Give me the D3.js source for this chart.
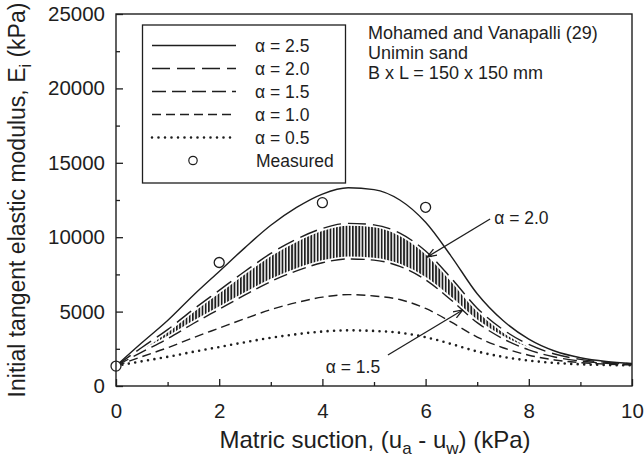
<!DOCTYPE html>
<html>
<head>
<meta charset="utf-8">
<script src="https://cdn.jsdelivr.net/npm/d3@7"></script>
<style>
  body { margin: 0; background: #fff; }
  text { font-family: "Liberation Sans", Arial, Helvetica, sans-serif; fill: #1e1e1e; }
</style>
</head>
<body>
<div id="chart"></div>
<script>
// suction values (kPa)
const suction = [0, 0.5, 1, 1.5, 2, 2.5, 3, 3.5, 4, 4.5, 5, 5.5, 6, 6.5, 7, 7.5, 8, 8.5, 9, 9.5, 10];

// Ei (kPa)
const alpha25 = [1350, 2900, 4400, 6100, 7700, 9300, 10800, 12000, 12900, 13320, 13200, 12500, 11000, 8700, 6200, 4400, 3150, 2350, 1900, 1650, 1520];
const alpha20 = [1350, 2590, 3790, 5150, 6430, 7710, 8910, 9870, 10590, 10930, 10830, 10270, 9070, 7230, 5230, 3790, 2790, 2150, 1790, 1590, 1490];
const alpha15 = [1350, 2280, 3180, 4200, 5160, 6120, 7020, 7740, 8280, 8540, 8460, 8040, 7140, 5760, 4260, 3180, 2430, 1950, 1680, 1530, 1460];
const alpha10 = [1350, 1970, 2570, 3250, 3890, 4530, 5130, 5610, 5970, 6140, 6050, 5810, 5210, 4290, 3290, 2570, 2070, 1750, 1570, 1470, 1420];
const alpha05 = [1350, 1660, 1960, 2300, 2620, 2940, 3240, 3480, 3660, 3740, 3700, 3580, 3280, 2820, 2320, 1960, 1710, 1550, 1460, 1410, 1390];

const measuredX = [0, 2, 4, 6];
const measuredY = [1340, 8300, 12320, 12010];

const xTicks = [0, 2, 4, 6, 8, 10];
const yTicks = [0, 5000, 10000, 15000, 20000, 25000];

const seriesNames = ["\u03b1 = 2.5", "\u03b1 = 2.0", "\u03b1 = 1.5", "\u03b1 = 1.0", "\u03b1 = 0.5"];
const infoLines = ["Mohamed and Vanapalli (29)", "Unimin sand", "B x L = 150 x 150 mm"];

const width = 644, height = 459;
const margin = { top: 14, right: 12, bottom: 73, left: 116 };
const ink = "#1e1e1e";
const font = '"Liberation Sans", Arial, Helvetica, sans-serif';

const svg = d3.select("#chart").append("svg")
  .attr("width", width)
  .attr("height", height);

const x = d3.scaleLinear().domain([0, 10]).range([margin.left, width - margin.right]);
const y = d3.scaleLinear().domain([0, 25000]).range([height - margin.bottom, margin.top]);

// hatch pattern
const defs = svg.append("defs");
defs.append("pattern")
  .attr("id", "hatch")
  .attr("patternUnits", "userSpaceOnUse")
  .attr("width", 3.2).attr("height", 6)
  .append("rect")
  .attr("x", 0).attr("y", 0).attr("width", 1.8).attr("height", 6)
  .attr("fill", ink);

defs.append("marker")
  .attr("id", "arrow")
  .attr("viewBox", "0 0 10 10")
  .attr("refX", 9.5).attr("refY", 5)
  .attr("markerWidth", 10).attr("markerHeight", 10)
  .attr("markerUnits", "userSpaceOnUse")
  .attr("orient", "auto")
  .append("path")
  .attr("d", "M0,1.5 L9.5,5 L0,8.5")
  .attr("fill", "none")
  .attr("stroke", ink)
  .attr("stroke-width", 1.3);

const line = d3.line()
  .x((d, i) => x(suction[i]))
  .y(d => y(d))
  .curve(d3.curveMonotoneX);

// hatched band between alpha 2.0 and alpha 1.5
const band = d3.area()
  .x((d, i) => x(suction[i]))
  .y0((d, i) => y(alpha15[i]))
  .y1(d => y(d))
  .curve(d3.curveMonotoneX);

svg.append("path")
  .datum(alpha20)
  .attr("d", band)
  .attr("fill", "url(#hatch)");

// white halo so the hatch stops short of the dashed borders
[alpha20, alpha15].forEach(s => {
  svg.append("path")
    .datum(s)
    .attr("d", line)
    .attr("fill", "none")
    .attr("stroke", "#fff")
    .attr("stroke-width", 5);
});

const styles = [
  { dash: null, w: 1.4, cap: "butt" },
  { dash: "18,7", w: 1.4, cap: "butt" },
  { dash: "14,6", w: 1.4, cap: "butt" },
  { dash: "9,5", w: 1.4, cap: "butt" },
  { dash: "0,6.5", w: 2.6, cap: "round" }
];
const allSeries = [alpha25, alpha20, alpha15, alpha10, alpha05];

allSeries.forEach((s, k) => {
  svg.append("path")
    .datum(s)
    .attr("d", line)
    .attr("fill", "none")
    .attr("stroke", ink)
    .attr("stroke-width", styles[k].w)
    .attr("stroke-linecap", styles[k].cap)
    .attr("stroke-dasharray", styles[k].dash);
});

// measured points
svg.selectAll(".meas")
  .data(measuredX)
  .enter()
  .append("circle")
  .attr("cx", d => x(d))
  .attr("cy", (d, i) => y(measuredY[i]))
  .attr("r", 5)
  .attr("fill", "#fff")
  .attr("stroke", ink)
  .attr("stroke-width", 1.3);

// frame
svg.append("rect")
  .attr("x", margin.left)
  .attr("y", margin.top)
  .attr("width", width - margin.left - margin.right)
  .attr("height", height - margin.top - margin.bottom)
  .attr("fill", "none")
  .attr("stroke", ink)
  .attr("stroke-width", 1.4);

// axes with inward ticks
const xMajor = d3.axisBottom(x).tickValues(xTicks).tickSize(-7).tickPadding(17).tickFormat(d3.format("d"));
const xMinor = d3.axisBottom(x).tickValues([1, 3, 5, 7, 9]).tickSize(-4).tickFormat("");
const yMajor = d3.axisLeft(y).tickValues(yTicks).tickSize(-7).tickPadding(11).tickFormat(d3.format("d"));
const yMinor = d3.axisLeft(y).tickValues([2500, 7500, 12500, 17500, 22500]).tickSize(-4).tickFormat("");

function styleAxis(g) {
  g.select(".domain").remove();
  g.selectAll("line").attr("stroke", ink).attr("stroke-width", 1.3);
  g.selectAll("text").attr("font-size", 20.5).attr("fill", ink).style("font-family", font);
}

[xMajor, xMinor].forEach(a => {
  svg.append("g")
    .attr("transform", `translate(0, ${height - margin.bottom})`)
    .call(a)
    .call(styleAxis);
});
[yMajor, yMinor].forEach(a => {
  svg.append("g")
    .attr("transform", `translate(${margin.left}, 0)`)
    .call(a)
    .call(styleAxis);
});

// axis titles
const xt = svg.append("text")
  .attr("x", 375)
  .attr("y", 448)
  .attr("text-anchor", "middle")
  .attr("font-size", 24);
xt.append("tspan").text("Matric suction, (u");
xt.append("tspan").attr("dy", 6).attr("font-size", 17).text("a");
xt.append("tspan").attr("dy", -6).text(" - u");
xt.append("tspan").attr("dy", 6).attr("font-size", 17).text("w");
xt.append("tspan").attr("dy", -6).text(") (kPa)");

const yt = svg.append("text")
  .attr("transform", `translate(25, ${(margin.top + height - margin.bottom) / 2}) rotate(-90)`)
  .attr("text-anchor", "middle")
  .attr("font-size", 23);
yt.append("tspan").text("Initial tangent elastic modulus, E");
yt.append("tspan").attr("dy", 6).attr("font-size", 16).text("i");
yt.append("tspan").attr("dy", -6).text(" (kPa)");

// legend
const legend = svg.append("g");
legend.append("rect")
  .attr("x", 142.5).attr("y", 25)
  .attr("width", 203).attr("height", 158)
  .attr("fill", "#fff")
  .attr("stroke", ink)
  .attr("stroke-width", 1.3);

seriesNames.forEach((name, k) => {
  const ly = 45.5 + k * 23;
  legend.append("line")
    .attr("x1", 152).attr("x2", 236)
    .attr("y1", ly).attr("y2", ly)
    .attr("stroke", ink)
    .attr("stroke-width", styles[k].w)
    .attr("stroke-linecap", styles[k].cap)
    .attr("stroke-dasharray", styles[k].dash);
  legend.append("text")
    .attr("x", 255).attr("y", ly + 6.3)
    .attr("font-size", 17.5)
    .text(name);
});
legend.append("circle")
  .attr("cx", 193).attr("cy", 160.5)
  .attr("r", 4.2)
  .attr("fill", "#fff")
  .attr("stroke", ink)
  .attr("stroke-width", 1.2);
legend.append("text")
  .attr("x", 256).attr("y", 166.8)
  .attr("font-size", 17.5)
  .text("Measured");

// info text
infoLines.forEach((t, i) => {
  svg.append("text")
    .attr("x", 368)
    .attr("y", 39 + i * 20.2)
    .attr("font-size", 18)
    .text(t);
});

// annotations
svg.append("line")
  .attr("x1", x(7.25)).attr("y1", y(11220))
  .attr("x2", x(6.03)).attr("y2", y(8670))
  .attr("stroke", ink).attr("stroke-width", 1.3)
  .attr("marker-end", "url(#arrow)");
svg.append("text")
  .attr("x", x(7.33)).attr("y", y(10900))
  .attr("font-size", 17.5)
  .text("\u03b1 = 2.0");

svg.append("line")
  .attr("x1", x(5.27)).attr("y1", y(2080))
  .attr("x2", x(6.72)).attr("y2", y(5110))
  .attr("stroke", ink).attr("stroke-width", 1.3)
  .attr("marker-end", "url(#arrow)");
svg.append("text")
  .attr("x", x(5.12)).attr("y", y(880))
  .attr("text-anchor", "end")
  .attr("font-size", 17.5)
  .text("\u03b1 = 1.5");
</script>
</body>
</html>
